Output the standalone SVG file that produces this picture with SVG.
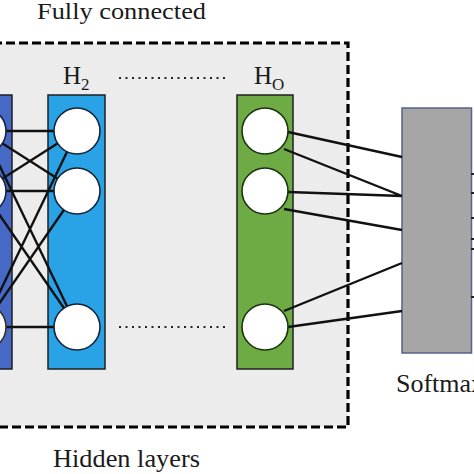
<svg xmlns="http://www.w3.org/2000/svg" width="474" height="474" viewBox="0 0 474 474">
<style>
.lbl{font-family:"Liberation Serif","Times New Roman",serif;fill:#1a1a1a}
.col{stroke:#1f1f1f;stroke-width:1.5}
.c{fill:#fff;stroke-width:1.6}
.ln{stroke:#111;stroke-width:2.4;fill:none}
.dots{stroke:#222;stroke-width:2.2;stroke-dasharray:2 4.5;fill:none}
</style>
<rect x="0" y="0" width="474" height="474" fill="#fff"/>
<g id="fc-box">
<rect x="-20" y="43" width="368" height="384" fill="#ececec"/>
<path d="M-20 43 H348 V427 H-20" fill="none" stroke="#000" stroke-width="3.2" stroke-dasharray="9 4"/>
</g>
<g id="H1">
<rect class="col" x="-45" y="95" width="57" height="274" fill="#4669c6"/>
</g>
<g id="H2">
<rect class="col" x="48" y="95" width="57" height="274" fill="#2aa2e6"/>
</g>
<g id="HO">
<rect class="col" x="237" y="95" width="56" height="274" fill="#6fab45"/>
</g>
<g id="softmax">
<rect x="402" y="108" width="69.5" height="245" fill="#a6a6a6" stroke="#55628a" stroke-width="1.5"/>
</g>
<g id="connectors">
<path class="ln" d="M-17 131 L77 131 M-17 131 L77 191 M-17 131 L77 327 M-17 191 L77 131 M-17 191 L77 191 M-17 191 L77 327 M-17 327 L77 131 M-17 327 L77 191 M-17 327 L77 327"/>
<path class="ln" d="M288 132 L402 157 M284 149 L402 196 M288 192 L402 196 M284 209 L402 230 M284 311 L402 263 M288 327 L402 311"/>
<path stroke="#222" stroke-width="2" d="M471 174 H474 M471 193 H474 M471 218 H474 M471 239 H474 M471 249 H474 M471 297 H474"/>
<path class="dots" d="M119 78 H225 M119 327 H226"/>
</g>
<g id="H1-nodes">
<circle class="c" cx="-17" cy="131" r="23" stroke="#1b2440"/>
<circle class="c" cx="-17" cy="191" r="23" stroke="#1b2440"/>
<circle class="c" cx="-17" cy="327" r="23" stroke="#3a3520" stroke-width="2.5"/>
</g>
<g id="H2-nodes">
<circle class="c" cx="77" cy="131" r="23" stroke="#162538"/>
<circle class="c" cx="77" cy="191" r="23" stroke="#162538"/>
<circle class="c" cx="77" cy="327" r="23" stroke="#162538"/>
</g>
<g id="HO-nodes">
<circle class="c" cx="265" cy="131" r="23" stroke="#1c3310"/>
<circle class="c" cx="265" cy="191" r="23" stroke="#1c3310"/>
<circle class="c" cx="265" cy="327" r="23" stroke="#1c3310"/>
</g>
<g id="labels">
<text class="lbl" x="37" y="19" font-size="23" textLength="169" lengthAdjust="spacingAndGlyphs">Fully connected</text>
<text class="lbl" x="53" y="467" font-size="26" textLength="147" lengthAdjust="spacingAndGlyphs">Hidden layers</text>
<text class="lbl" x="396" y="392" font-size="26">Softmax</text>
<text class="lbl" x="63" y="84" font-size="25">H<tspan font-size="17" dy="6">2</tspan></text>
<text class="lbl" x="254" y="84" font-size="25">H<tspan font-size="17" dy="6">O</tspan></text>
</g>
</svg>
